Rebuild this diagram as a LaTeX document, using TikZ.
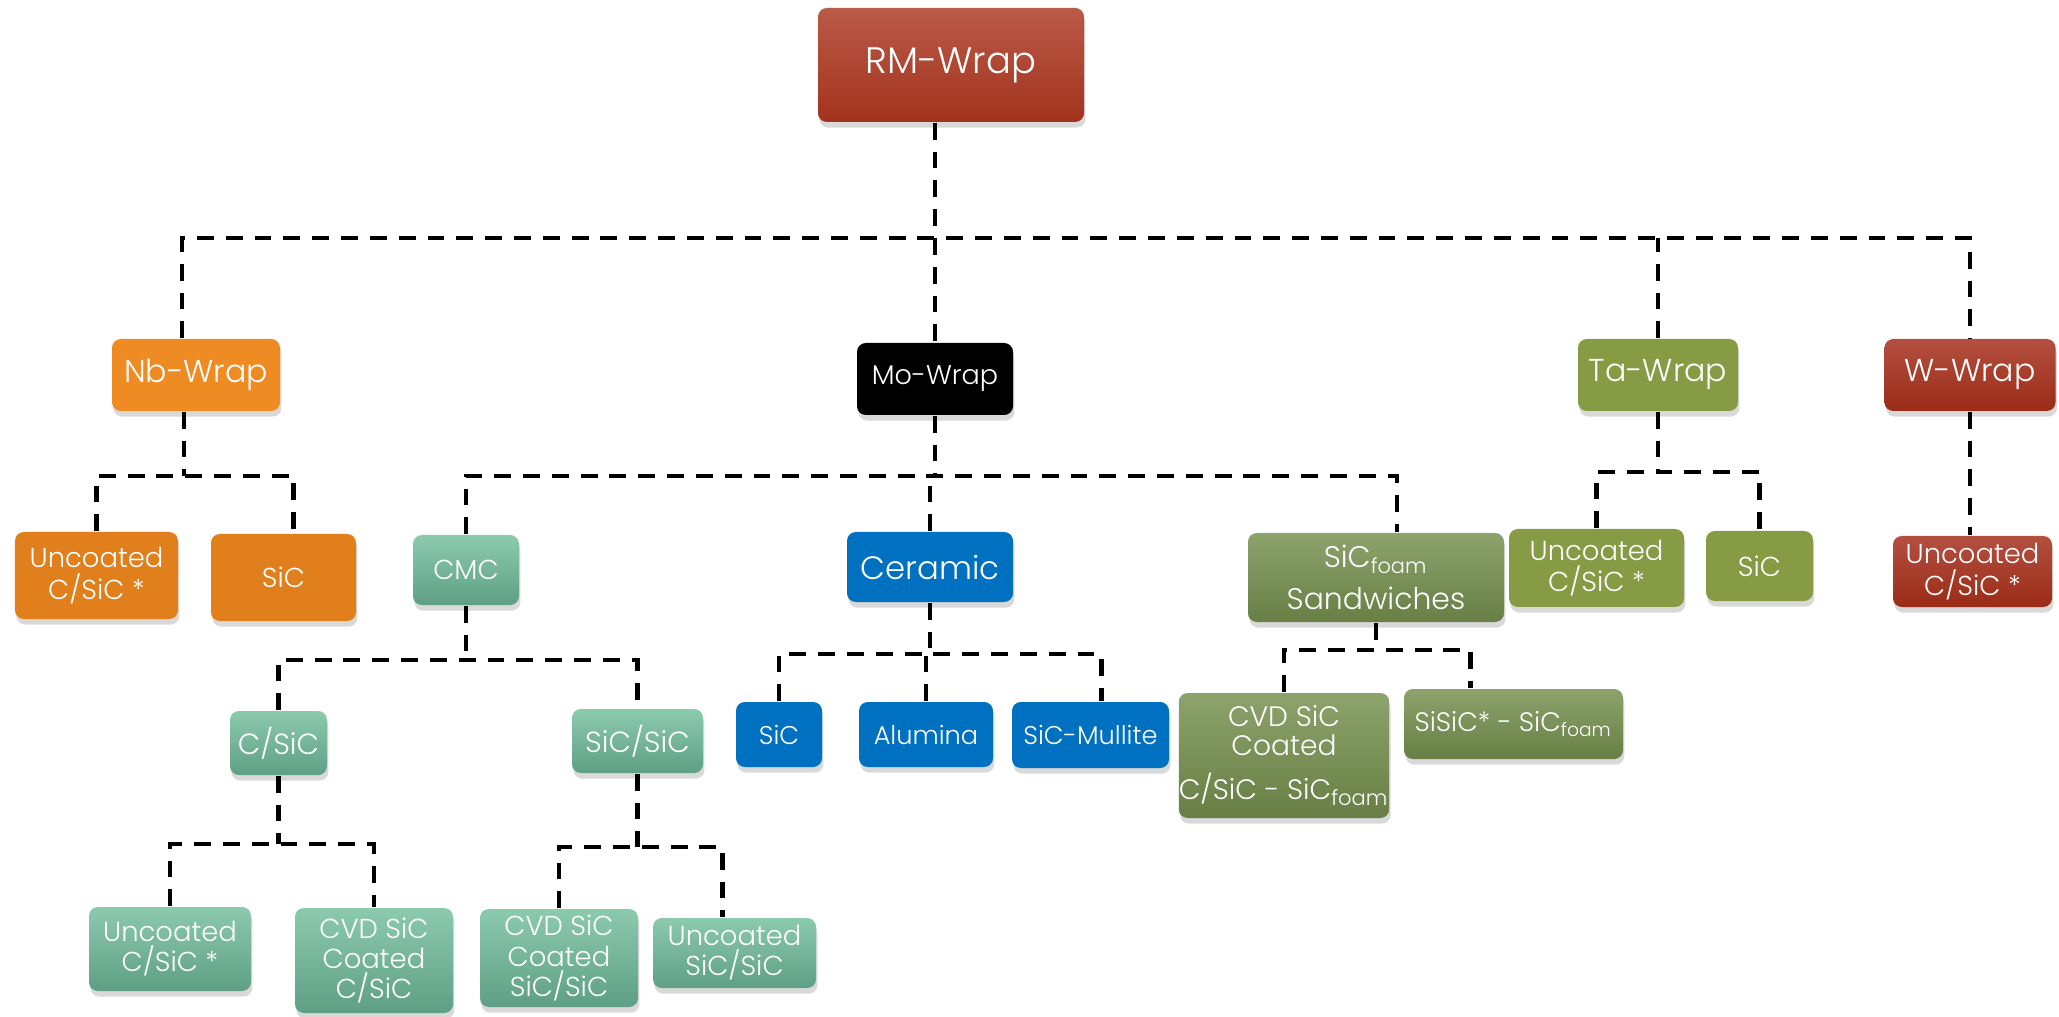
\documentclass[tikz,border=0pt]{standalone}
\usepackage{fontspec}
\setmainfont{Poppins}[UprightFont={* Light}]
\usepackage{tikz}
\usetikzlibrary{shadows}

\definecolor{rmTop}{HTML}{BA5A48}
\definecolor{rmBot}{HTML}{A2331D}
\definecolor{wTop}{HTML}{B44F40}
\definecolor{wBot}{HTML}{9A2C17}
\definecolor{nbHead}{HTML}{EE8B22}
\definecolor{nbLeaf}{HTML}{E07F1C}
\definecolor{cmcTop}{HTML}{8CCAAE}
\definecolor{cmcBot}{HTML}{5E9F85}
\definecolor{cerBlue}{HTML}{0070C0}
\definecolor{taOlive}{HTML}{869B44}
\definecolor{foamTop}{HTML}{8CA46C}
\definecolor{foamBot}{HTML}{677E44}

\tikzset{
    box/.style={rounded corners=2.5pt, text=white, align=center, inner sep=0pt,
        drop shadow={shadow xshift=0.4pt, shadow yshift=-1.6pt, opacity=0.3}},
    rmbox/.style={box, top color=rmTop, bottom color=rmBot, font=\fontsize{10.5}{12}\selectfont},
    wbox/.style={box, top color=wTop, bottom color=wBot, font=\fontsize{9}{9.5}\selectfont},
    nbbox/.style={box, fill=#1, font=\fontsize{9}{9.5}\selectfont},
    mobox/.style={box, fill=black, font=\fontsize{7.7}{8.5}\selectfont},
    tabox/.style={box, fill=taOlive, font=\fontsize{9}{9.5}\selectfont},
    cmcbox/.style={box, top color=cmcTop, bottom color=cmcBot, font=\fontsize{7.8}{8.6}\selectfont},
    cerbox/.style={box, fill=cerBlue, font=\fontsize{7.3}{8.5}\selectfont},
    foambox/.style={box, top color=foamTop, bottom color=foamBot, font=\fontsize{8.5}{9}\selectfont},
    link/.style={line width=1.2pt, dash pattern=on 4.8pt off 3.4pt},
}

\begin{document}
\begin{tikzpicture}
    \useasboundingbox (0,0) rectangle (20.59,-10.17);

    % Kopf
    \node[rmbox, minimum width=2.66cm, minimum height=1.14cm] (rm) at (9.51,-0.65) {RM-Wrap};

    % erste Ebene
    \node[nbbox=nbHead, minimum width=1.68cm, minimum height=0.72cm] (nb) at (1.96,-3.75) {Nb-Wrap};
    \node[mobox, minimum width=1.56cm, minimum height=0.72cm] (mo) at (9.35,-3.79) {Mo-Wrap};
    \node[tabox, minimum width=1.60cm, minimum height=0.72cm] (ta) at (16.58,-3.75) {Ta-Wrap};
    \node[wbox, minimum width=1.71cm, minimum height=0.72cm] (w) at (19.70,-3.75) {W-Wrap};

    % zweite Ebene
    \node[nbbox=nbLeaf, font=\fontsize{7.8}{9}\selectfont, minimum width=1.63cm, minimum height=0.87cm] (nbu) at (0.965,-5.755) {Uncoated\\C/SiC *};
    \node[nbbox=nbLeaf, font=\fontsize{7.8}{9}\selectfont, minimum width=1.45cm, minimum height=0.87cm] (nbs) at (2.835,-5.775) {SiC};
    \node[cmcbox, minimum width=1.06cm, minimum height=0.70cm] (cmc) at (4.66,-5.70) {CMC};
    \node[cerbox, font=\fontsize{9.2}{10}\selectfont, minimum width=1.66cm, minimum height=0.70cm] (cer) at (9.30,-5.67) {Ceramic};
    \node[foambox, minimum width=2.56cm, minimum height=0.89cm] (foam) at (13.76,-5.775) {SiC\textsubscript{foam}\\[3pt]Sandwiches};
    \node[tabox, font=\fontsize{7.8}{9}\selectfont, minimum width=1.75cm, minimum height=0.78cm] (tau) at (15.965,-5.68) {Uncoated\\C/SiC *};
    \node[tabox, font=\fontsize{7.8}{9}\selectfont, minimum width=1.07cm, minimum height=0.70cm] (tas) at (17.595,-5.66) {SiC};
    \node[wbox, font=\fontsize{7.8}{9}\selectfont, minimum width=1.59cm, minimum height=0.71cm] (wu) at (19.725,-5.715) {Uncoated\\C/SiC *};

    % dritte Ebene
    \node[cmcbox, font=\fontsize{8.3}{9}\selectfont, minimum width=0.97cm, minimum height=0.64cm] (csic) at (2.785,-7.43) {C/SiC};
    \node[cmcbox, font=\fontsize{8.3}{9}\selectfont, minimum width=1.31cm, minimum height=0.64cm] (sicsic) at (6.375,-7.41) {SiC/SiC};
    \node[cerbox, minimum width=0.86cm, minimum height=0.65cm] (cers) at (7.79,-7.345) {SiC};
    \node[cerbox, minimum width=1.34cm, minimum height=0.65cm] (alu) at (9.26,-7.345) {Alumina};
    \node[cerbox, minimum width=1.57cm, minimum height=0.66cm] (mul) at (10.905,-7.35) {SiC-Mullite};
    \node[foambox, font=\fontsize{8}{8.4}\selectfont, minimum width=2.10cm, minimum height=1.25cm] (foamc) at (12.84,-7.555) {CVD SiC\\Coated\\[4pt]C/SiC - SiC\textsubscript{foam}};
    \node[foambox, font=\fontsize{7.6}{9}\selectfont, minimum width=2.19cm, minimum height=0.70cm] (sisic) at (15.135,-7.24) {SiSiC* - SiC\textsubscript{foam}};

    % vierte Ebene
    \node[cmcbox, minimum width=1.62cm, minimum height=0.84cm] (csu) at (1.70,-9.49) {Uncoated\\C/SiC *};
    \node[cmcbox, minimum width=1.58cm, minimum height=1.05cm] (csc) at (3.74,-9.605) {CVD SiC\\Coated\\C/SiC};
    \node[cmcbox, minimum width=1.58cm, minimum height=0.98cm] (ssc) at (5.59,-9.58) {CVD SiC\\Coated\\SiC/SiC};
    \node[cmcbox, minimum width=1.63cm, minimum height=0.70cm] (ssu) at (7.345,-9.53) {Uncoated\\SiC/SiC};

    % Sammelschienen
    \coordinate (busmain) at (0,-2.38);
    \coordinate (busnb) at (0,-4.76);
    \coordinate (busmo) at (0,-4.76);
    \coordinate (busta) at (0,-4.72);
    \coordinate (buscmc) at (0,-6.60);
    \coordinate (buscer) at (0,-6.54);
    \coordinate (busfoam) at (0,-6.50);
    \coordinate (buscsic) at (0,-8.44);
    \coordinate (bussicsic) at (0,-8.47);

    % Verbindungen
    \draw[link] (rm.south -| mo.north) -- (mo.north);
    \draw[link] ([xshift=-0.14cm]nb.north) |- (w.north |- busmain) -- (w.north);
    \draw[link] (ta.north) -- (ta.north |- busmain);

    \draw[link] ([xshift=-0.12cm]nb.south) -- ([xshift=-0.12cm]nb.south |- busnb);
    \draw[link] (nbu.north) |- ([xshift=0.1cm]nbs.north |- busnb) -- ([xshift=0.1cm]nbs.north);

    \draw[link] (mo.south) -- (mo.south |- busmo);
    \draw[link] (cmc.north) |- ([xshift=0.21cm]foam.north |- busmo) -- ([xshift=0.21cm]foam.north);
    \draw[link] (cer.north) -- (cer.north |- busmo);

    \draw[link] (ta.south) -- (ta.south |- busta);
    \draw[link] (tau.north) |- (tas.north |- busta) -- (tas.north);

    \draw[link] (w.south) -- (w.south |- wu.north);

    \draw[link] (cmc.south) -- (cmc.south |- buscmc);
    \draw[link] (csic.north) |- (sicsic.north |- buscmc) -- (sicsic.north);

    \draw[link] (cer.south) -- (cer.south |- buscer);
    \draw[link] (cers.north) |- ([xshift=0.11cm]mul.north |- buscer) -- ([xshift=0.11cm]mul.north);
    \draw[link] (alu.north) -- (alu.north |- buscer);

    \draw[link] (foam.south) -- (foam.south |- busfoam);
    \draw[link] (foamc.north) |- ([xshift=-0.43cm]sisic.north |- busfoam) -- ([xshift=-0.43cm]sisic.north);

    \draw[link] (csic.south) -- (csic.south |- buscsic);
    \draw[link] (csu.north) |- (csc.north |- buscsic) -- (csc.north);

    \draw[link] (sicsic.south) -- (sicsic.south |- bussicsic);
    \draw[link] (ssc.north) |- ([xshift=-0.12cm]ssu.north |- bussicsic) -- ([xshift=-0.12cm]ssu.north);
\end{tikzpicture}
\end{document}
